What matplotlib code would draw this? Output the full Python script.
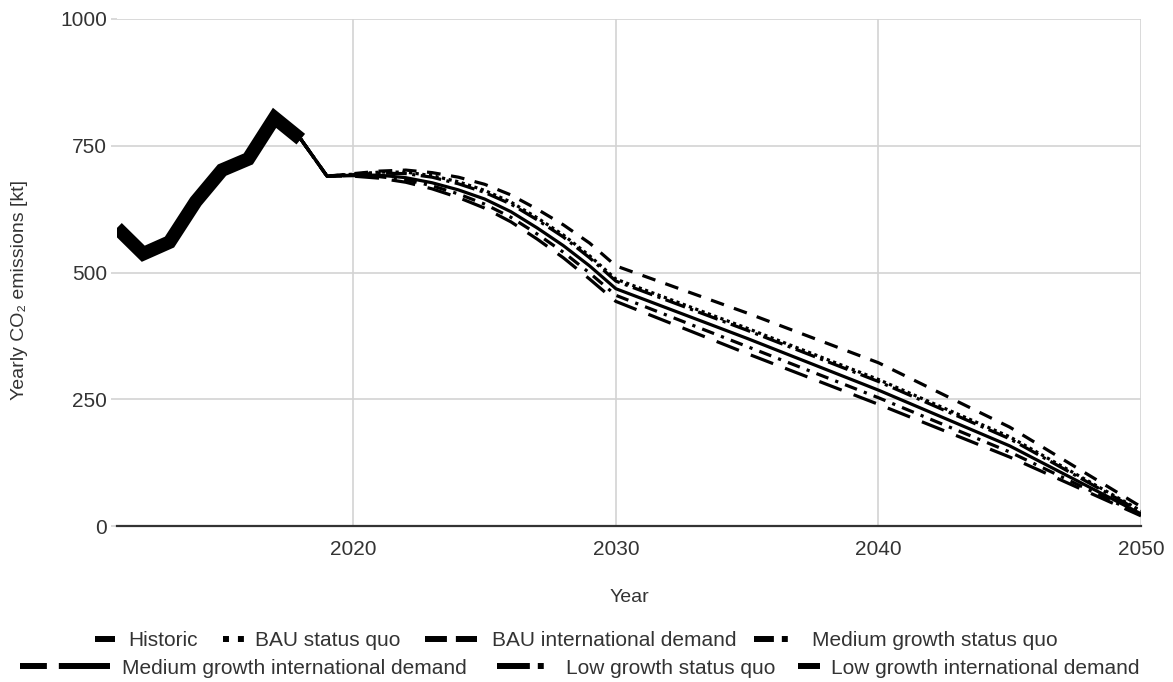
import matplotlib
matplotlib.use("Agg")
import matplotlib.pyplot as plt
from matplotlib.lines import Line2D

# ---------------- data ----------------
hist_years = [2011, 2012, 2013, 2014, 2015, 2016, 2017, 2018]
historic = [588, 537, 560, 640, 702, 724, 805, 763]

scen_years = [2018, 2019, 2020, 2021, 2022, 2023, 2024, 2025, 2026, 2027,
              2028, 2029, 2030, 2035, 2040, 2045, 2050]
bau_status_quo = [763, 690, 694, 698, 698, 691, 679, 662, 639, 608,
                  574, 533, 487, 390, 289, 176, 30]
bau_international = [763, 690, 695, 700, 702, 697, 688, 674, 653, 625,
                     594, 558, 513, 420, 322, 195, 38]
medium_status_quo = [763, 690, 693, 696, 695, 688, 675, 658, 635, 604,
                     570, 529, 483, 386, 285, 172, 28]
medium_international = [763, 690, 692, 692, 687, 677, 663, 645, 620, 588,
                        553, 513, 468, 370, 268, 158, 24]
low_status_quo = [763, 690, 691, 689, 683, 671, 655, 635, 609, 576,
                  540, 499, 455, 354, 253, 146, 22]
low_international = [763, 690, 690, 686, 678, 665, 648, 627, 600, 566,
                     529, 487, 443, 340, 240, 136, 20]

labels = ["Historic", "BAU status quo", "BAU international demand",
          "Medium growth status quo", "Medium growth international demand",
          "Low growth status quo", "Low growth international demand"]

x_ticks = [2020, 2030, 2040, 2050]
y_ticks = [0, 250, 500, 750, 1000]

# ---------------- style ----------------
W, H = 1173, 682
plt.rcParams['font.family'] = ['Liberation Sans', 'DejaVu Sans']
TXT = '#333333'
FS = 15
FS_TITLE = 14

fig = plt.figure(figsize=(W / 100, H / 100), dpi=100)
ax = fig.add_axes([117 / W, 1 - 526 / H, (1141 - 117) / W, (526 - 19) / H])

LW = 2.3
styles = {
    "BAU status quo": (0, (1, 1.1)),
    "BAU international demand": (0, (4.3, 3.3)),
    "Medium growth status quo": (0, (6.5, 1.7, 1, 1.7)),
    "Medium growth international demand": '-',
    "Low growth status quo": (0, (4, 2.3, 1, 2.3)),
    "Low growth international demand": (0, (7.5, 4)),
}
series = {
    "BAU status quo": bau_status_quo,
    "BAU international demand": bau_international,
    "Medium growth status quo": medium_status_quo,
    "Medium growth international demand": medium_international,
    "Low growth status quo": low_status_quo,
    "Low growth international demand": low_international,
}
for name, vals in series.items():
    ax.plot(scen_years, vals, color='black', lw=LW, linestyle=styles[name],
            dash_capstyle='butt', solid_capstyle='butt', zorder=3)

ax.plot(hist_years, historic, color='black', lw=9.8,
        solid_joinstyle='miter', solid_capstyle='butt', zorder=4)

ax.set_xlim(2011, 2050)
ax.set_ylim(0, 1000)
ax.set_xticks(x_ticks)
ax.set_yticks(y_ticks)
ax.grid(True, color='#d3d3d3', lw=1.2)
ax.set_axisbelow(True)
for s in ['top', 'right', 'left']:
    ax.spines[s].set_visible(False)
ax.spines['bottom'].set_color('#333333')
ax.spines['bottom'].set_linewidth(1.6)
ax.spines['bottom'].set_zorder(5)
ax.tick_params(axis='x', length=0, pad=10, labelsize=FS, labelcolor=TXT)
ax.tick_params(axis='y', length=4, color='#d3d3d3', width=1.2, pad=3,
               labelsize=FS, labelcolor=TXT)

ax.set_xlabel("Year", fontsize=FS_TITLE, color=TXT)
ax.set_ylabel("Yearly CO\u2082 emissions [kt]", fontsize=FS_TITLE, color=TXT)
ax.xaxis.set_label_coords(0.5, -(598 - 526) / 507)
ax.xaxis.label.set_va('center')
ax.yaxis.set_label_coords(-(117 - 20) / 1024, (526 - 290) / 507)
ax.yaxis.label.set_va('center')

# ---------------- legend (one entry per legend for exact placement) ----------------
fs_px = FS * 100 / 72
LLW = 4.3
entries = [
    # label, row y px, handle start px, handle length px, text start px, linestyle
    ("Historic", 641, 95, 20, 128, '-'),
    ("BAU status quo", 641, 223, 22, 255, (0, (1, 1.5))),
    ("BAU international demand", 641, 425, 52, 492, (0, (3.67, 1.5))),
    ("Medium growth status quo", 641, 754, 36, 812, (0, (3.33, 1.33, 1, 5))),
    ("Medium growth international demand", 668, 20, 90, 122, (5.0, (9.5, 2))),
    ("Low growth status quo", 668, 497, 53, 566, (0, (5.5, 1.33, 1, 5))),
    ("Low growth international demand", 668, 798, 22, 831, '-'),
]
for lab, ypx, x0, ln, tx, ls in entries:
    h = Line2D([], [], color='black', lw=LLW, linestyle=ls,
               dash_capstyle='butt', solid_capstyle='butt')
    fig.legend(handles=[h], labels=[lab], loc='center left',
               bbox_to_anchor=(x0 / W, 1 - ypx / H), frameon=False,
               borderpad=0, borderaxespad=0, handlelength=ln / fs_px,
               handletextpad=(tx - x0 - ln) / fs_px, fontsize=FS,
               labelcolor=TXT)

fig.savefig("out.png", dpi=100)
